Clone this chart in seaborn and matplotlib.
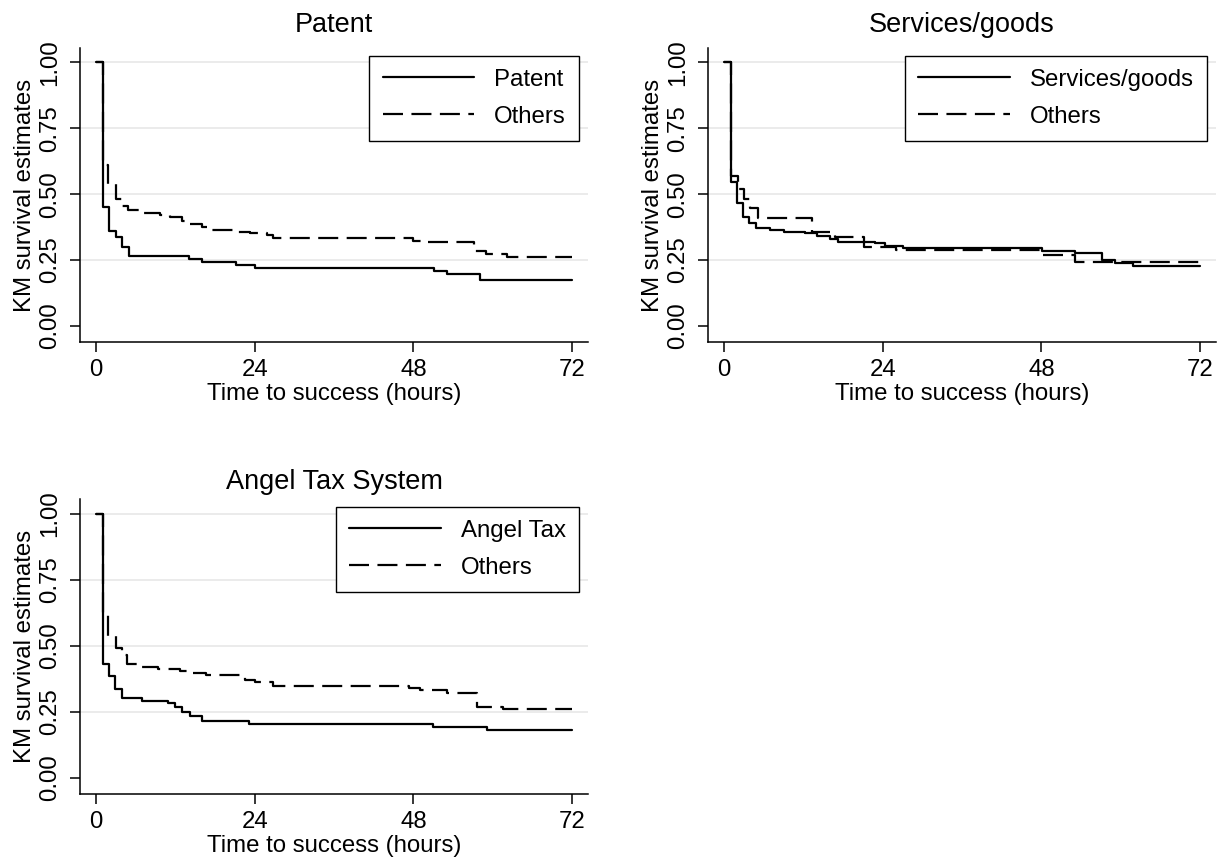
"""Kaplan-Meier curves: time to success by pitch feature."""

import matplotlib
matplotlib.use('Agg')
import matplotlib.pyplot as plt
import pandas as pd
import seaborn as sns

## SETTINGS
FONT = ['Liberation Sans', 'Arial', 'DejaVu Sans']
FS = 17.3
TITLE_FS = 19.5
LW = 1.6
DASH = (9, 3.8)
GRID_COLOR = '#e6e6e6'
W, H = 1223, 860

## DATA
X_TICKS = [0, 24, 48, 72]
Y_TICKS = [0, 0.25, 0.5, 0.75, 1.0]
Y_TICK_LABELS = ['0.00', '0.25', '0.50', '0.75', '1.00']
GRID_Y = [0.25, 0.5, 0.75, 1.0]

patent_t = [0, 1, 2, 3, 4, 5, 14.1, 16.1, 21.1, 24, 51.1, 53.1, 58.1, 72]
patent_s = [1, 0.453, 0.360, 0.336, 0.301, 0.266, 0.255, 0.244, 0.231, 0.220,
            0.210, 0.196, 0.176, 0.176]
patent_oth_t = [0, 1, 1.8, 3.0, 4.0, 4.9, 7.2, 9.7, 11.2, 13.0, 14.0, 16.0, 17.5,
                21.5, 23.3, 25.8, 26.8, 48.0, 50.0, 57.1, 58.9, 62.1, 72]
patent_oth_s = [1, 0.611, 0.540, 0.481, 0.457, 0.440, 0.430, 0.421, 0.412, 0.399,
                0.387, 0.377, 0.364, 0.358, 0.352, 0.345, 0.333, 0.324, 0.318,
                0.286, 0.273, 0.263, 0.263]

serv_t = [0, 1, 2, 2.8, 3.8, 4.9, 7.0, 9.0, 12.3, 14.0, 16.0, 17.3, 22.8, 24.4,
          27.1, 48.1, 53.1, 57.1, 59.1, 61.9, 72]
serv_s = [1, 0.547, 0.468, 0.415, 0.390, 0.371, 0.364, 0.358, 0.352, 0.342, 0.329,
          0.320, 0.314, 0.305, 0.295, 0.286, 0.278, 0.250, 0.238, 0.228, 0.228]
serv_oth_t = [0, 1, 2.07, 3.07, 3.9, 5.1, 13.3, 16.8, 21.1, 26, 48.3, 53.1, 72]
serv_oth_s = [1, 0.570, 0.519, 0.481, 0.449, 0.408, 0.358, 0.339, 0.299, 0.287,
              0.268, 0.242, 0.242]

angel_t = [0, 1.0, 2.0, 2.9, 4.0, 6.9, 10.9, 11.9, 13.0, 14.2, 16.1, 23.1, 51.0,
           59.1, 72]
angel_s = [1, 0.430, 0.385, 0.335, 0.301, 0.290, 0.282, 0.269, 0.248, 0.235, 0.215,
           0.203, 0.193, 0.181, 0.181]
angel_oth_t = [0, 1, 1.8, 3.0, 3.9, 4.7, 6.9, 9.4, 12.7, 14.7, 16.7, 22.5, 24.0,
               26.8, 47.3, 49.0, 53.1, 57.6, 61.6, 72]
angel_oth_s = [1, 0.622, 0.536, 0.490, 0.464, 0.430, 0.420, 0.410, 0.404, 0.398,
               0.389, 0.372, 0.364, 0.347, 0.339, 0.332, 0.320, 0.269, 0.259, 0.259]

PANELS = [
    ('Patent', {'Patent': (patent_t, patent_s), 'Others': (patent_oth_t, patent_oth_s)}),
    ('Services/goods', {'Services/goods': (serv_t, serv_s), 'Others': (serv_oth_t, serv_oth_s)}),
    ('Angel Tax System', {'Angel Tax': (angel_t, angel_s), 'Others': (angel_oth_t, angel_oth_s)}),
]

# axes boxes in pixels: left, top, right, bottom
BOXES = [(80, 48, 588, 342), (708, 48, 1216, 342), (80, 499, 588, 794)]
TITLE_PADS = [11.3, 11.3, 7.2]


def plot_km(ax, curves, title, title_pad):
    """Plot a pair of KM step curves on one axis."""

    groups = list(curves)
    df = pd.concat([pd.DataFrame({'hours': t, 'surv': s, 'group': g})
                    for g, (t, s) in curves.items()], ignore_index=True)

    for val in GRID_Y:
        ax.axhline(val, color=GRID_COLOR, lw=1.1, zorder=0)

    sns.lineplot(data=df, x='hours', y='surv', style='group', style_order=groups,
                 dashes={groups[0]: '', groups[1]: DASH}, color='black', lw=LW,
                 drawstyle='steps-post', estimator=None, sort=False, ax=ax, zorder=3)

    old = ax.get_legend()
    handles = [h for h, t in zip(old.legend_handles, old.get_texts()) if t.get_text() in groups]
    labels = [t.get_text() for t in old.get_texts() if t.get_text() in groups]
    for hnd in handles:
        hnd.set_color('black')
        hnd.set_linewidth(LW)
    leg = ax.legend(handles, labels, loc='upper right', bbox_to_anchor=(0.982, 0.974),
                    borderaxespad=0, fancybox=False, edgecolor='black', framealpha=1,
                    handlelength=3.8, handletextpad=0.83, labelspacing=0.62,
                    borderpad=0.55, fontsize=FS)
    leg.get_frame().set_linewidth(1.0)

    ax.set(xlim=[-2.42, 74.4], ylim=[-0.061, 1.055])
    ax.set_xticks(X_TICKS)
    ax.set_yticks(Y_TICKS, labels=Y_TICK_LABELS)
    for lab in ax.get_yticklabels():
        lab.set_rotation(90)
        lab.set_va('center')
    ax.tick_params(axis='both', direction='out', length=7, width=1.1,
                   labelsize=FS, color='black', labelcolor='black')
    ax.tick_params(axis='x', pad=5.5)
    ax.tick_params(axis='y', pad=6.5)

    ax.set_xlabel('Time to success (hours)', fontsize=FS, labelpad=1.5)
    ax.set_ylabel('KM survival estimates', fontsize=FS, labelpad=2)
    ax.set_title(title, fontsize=TITLE_FS, pad=title_pad)

    sns.despine(ax=ax)
    for side in ['left', 'bottom']:
        ax.spines[side].set_linewidth(1.1)
        ax.spines[side].set_color('black')


sns.set_style('ticks')
plt.rcParams['font.family'] = FONT
plt.rcParams['text.color'] = 'black'
plt.rcParams['axes.labelcolor'] = 'black'

fig = plt.figure(figsize=(W / 100, H / 100), dpi=100)
for (title, curves), (left, top, right, bottom), pad in zip(PANELS, BOXES, TITLE_PADS):
    ax = fig.add_axes([left / W, (H - bottom) / H, (right - left) / W, (bottom - top) / H])
    plot_km(ax, curves, title, pad)

fig.savefig('out.png', dpi=100, facecolor='white')
